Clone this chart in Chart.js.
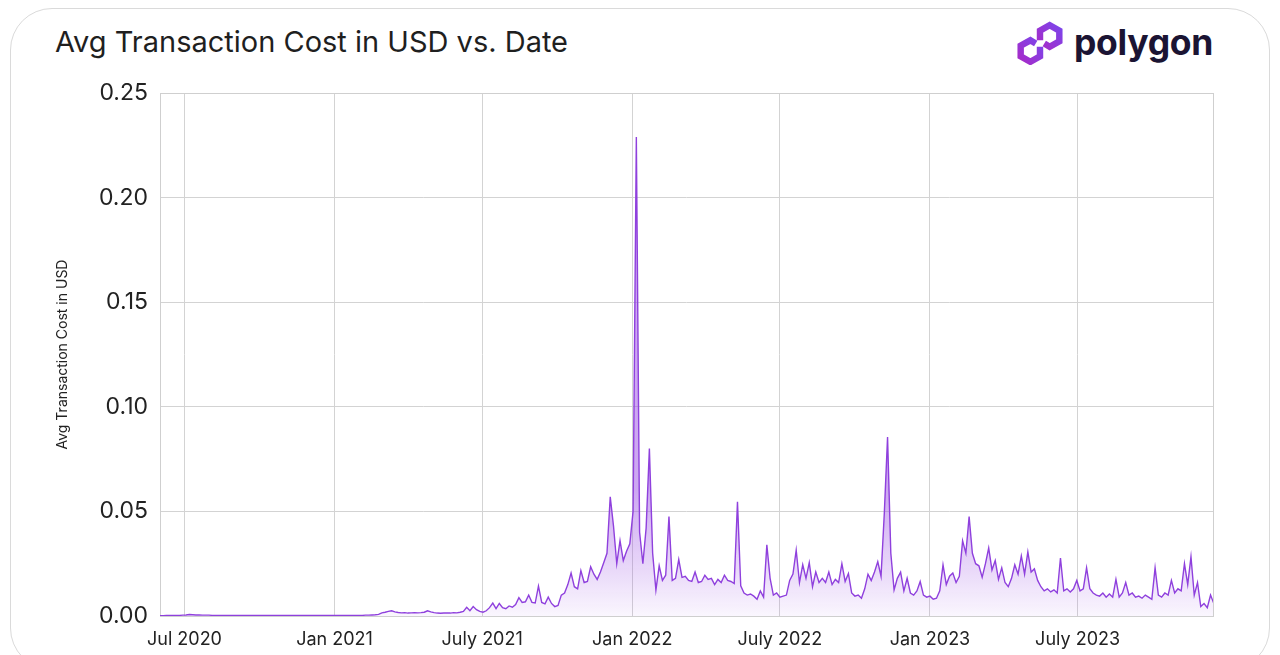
<!DOCTYPE html>
<html>
<head>
<meta charset="utf-8">
<script src="https://cdn.jsdelivr.net/npm/chart.js@4.4.1/dist/chart.umd.min.js"></script>
<style>
  html, body { margin: 0; padding: 0; background: #fff; width: 1280px; height: 655px; overflow: hidden; font-family: Inter, "Noto Sans", sans-serif; }
  .card { position: absolute; left: 10px; top: 8px; width: 1258px; height: 660px; border: 1px solid #dadada; border-radius: 42px; }
  h1 { position: absolute; left: 55px; top: 24px; margin: 0; font-weight: 400; font-size: 29px; color: #1f1f1f; }
  .logo { position: absolute; left: 1016px; top: 21px; display: flex; align-items: center; }
  .logo span { font-weight: 700; font-size: 35.5px; color: #1b1433; margin-left: 10px; letter-spacing: -0.3px; line-height: 44px; }
  canvas { position: absolute; left: 0; top: 0; }
</style>
</head>
<body>
<div class="card"></div>
<h1>Avg Transaction Cost in USD vs. Date</h1>
<div class="logo">
  <svg width="48" height="44" viewBox="1 1 44 41">
    <defs>
      <linearGradient id="pg" x1="0" y1="1" x2="1" y2="0">
        <stop offset="0" stop-color="#a62bc8"/>
        <stop offset="1" stop-color="#7d45ea"/>
      </linearGradient>
    </defs>
    <g fill="none" stroke="url(#pg)" stroke-width="6" stroke-linejoin="miter" stroke-linecap="butt">
      <polyline points="19,22 14,19 5,24 5,34 14,39 23,34 23,25"/>
      <polyline points="27,22 32,25 41,20 41,10 32,5 23,10 23,19"/>
    </g>
  </svg>
  <span>polygon</span>
</div>
<canvas id="chart" width="1280" height="655"></canvas>
<script>
// daily avg cost sampled every 4 days, starting 2020-06-01
const startDate = "2020-06-01";
const stepDays = 4;
const endDate = "2023-12-14";
const costs = [
  0.0002, 0.0002, 0.0003, 0.0003, 0.0003, 0.0003, 0.0003, 0.0004, 0.0005, 0.0007,
  0.0006, 0.0005, 0.0005, 0.0004, 0.0004, 0.0004, 0.0003, 0.0003, 0.0003, 0.0003,
  0.0003, 0.0003, 0.0003, 0.0003, 0.0003, 0.0003, 0.0003, 0.0003, 0.0003, 0.0003,
  0.0003, 0.0003, 0.0003, 0.0003, 0.0003, 0.0003, 0.0003, 0.0003, 0.0003, 0.0003,
  0.0003, 0.0003, 0.0003, 0.0003, 0.0003, 0.0003, 0.0003, 0.0003, 0.0003, 0.0003,
  0.0003, 0.0003, 0.0003, 0.0003, 0.0003, 0.0003, 0.0003, 0.0003, 0.0003, 0.0003,
  0.0003, 0.0003, 0.0003, 0.0004, 0.0004, 0.0005, 0.0006,
  // mar 2021
  0.0008, 0.0015, 0.0018, 0.0022, 0.0025, 0.0020, 0.0017, 0.0015, 0.0016, 0.0014,
  0.0015, 0.0016, 0.0015, 0.0016, 0.0018, 0.0025, 0.0020, 0.0016, 0.0014, 0.0013,
  0.0014, 0.0015, 0.0014, 0.0016, 0.0015, 0.0018, 0.0022, 0.0042, 0.0025, 0.0045,
  0.0030, 0.0022, 0.0018,
  // jul 2021
  0.0025, 0.0040, 0.0062, 0.0035, 0.0060, 0.0040, 0.0035, 0.0048, 0.0042, 0.0055,
  0.0088, 0.0065, 0.0068, 0.0100, 0.0065, 0.0062, 0.0143, 0.0065, 0.0058, 0.0090,
  0.0060, 0.0045, 0.0050, 0.0100, 0.0110, 0.0150, 0.0205, 0.0140, 0.0130, 0.0217,
  0.0160, 0.0165, 0.0235, 0.0200, 0.0175, 0.0210, 0.0255, 0.0300, 0.0570, 0.0430,
  0.0250, 0.0360, 0.0265, 0.0310, 0.0345, 0.0500, 0.2290, 0.0400, 0.0250, 0.0420,
  // feb 2022
  0.0800, 0.0300, 0.0124, 0.0240, 0.0170, 0.0195, 0.0475, 0.0170, 0.0180, 0.0270,
  0.0185, 0.0190, 0.0170, 0.0165, 0.0210, 0.0160, 0.0165, 0.0195, 0.0175, 0.0180,
  0.0150, 0.0175, 0.0160, 0.0195, 0.0170, 0.0165, 0.0155, 0.0546, 0.0144, 0.0110,
  0.0100, 0.0105, 0.0095, 0.0080, 0.0120, 0.0090, 0.0340, 0.0180, 0.0100, 0.0110,
  0.0090, 0.0095, 0.0100, 0.0170, 0.0200, 0.0315, 0.0160, 0.0245, 0.0180, 0.0255,
  // sep 2022
  0.0140, 0.0210, 0.0160, 0.0180, 0.0160, 0.0210, 0.0150, 0.0175, 0.0160, 0.0250,
  0.0165, 0.0203, 0.0110, 0.0095, 0.0100, 0.0085, 0.0130, 0.0200, 0.0170, 0.0210,
  0.0260, 0.0190, 0.0490, 0.0855, 0.0300, 0.0125, 0.0180, 0.0210, 0.0120, 0.0180,
  0.0110, 0.0100, 0.0120, 0.0165, 0.0100, 0.0090, 0.0095, 0.0080, 0.0085, 0.0120,
  0.0244, 0.0150, 0.0190, 0.0205, 0.0160, 0.0190, 0.0360, 0.0300, 0.0475, 0.0300,
  // mar 2023
  0.0250, 0.0240, 0.0185, 0.0250, 0.0325, 0.0220, 0.0265, 0.0175, 0.0230, 0.0160,
  0.0140, 0.0180, 0.0245, 0.0200, 0.0287, 0.0200, 0.0307, 0.0210, 0.0225, 0.0170,
  0.0140, 0.0120, 0.0130, 0.0115, 0.0125, 0.0110, 0.0277, 0.0120, 0.0130, 0.0115,
  0.0130, 0.0170, 0.0120, 0.0130, 0.0230, 0.0130, 0.0110, 0.0100, 0.0095, 0.0110,
  0.0090, 0.0105, 0.0090, 0.0175, 0.0090, 0.0110, 0.0160, 0.0100, 0.0110, 0.0090,
  // sep 2023
  0.0095, 0.0085, 0.0100, 0.0090, 0.0080, 0.0230, 0.0100, 0.0090, 0.0110, 0.0100,
  0.0170, 0.0110, 0.0130, 0.0120, 0.0250, 0.0150, 0.0283, 0.0100, 0.0160, 0.0045,
  0.0060, 0.0040, 0.0100, 0.0060
];

const tickDates = ["2020-07-01", "2021-01-01", "2021-07-01", "2022-01-01", "2022-07-01", "2023-01-01", "2023-07-01"];
const tickLabels = ["Jul 2020", "Jan 2021", "July 2021", "Jan 2022", "July 2022", "Jan 2023", "July 2023"];
const yTicks = [0, 0.05, 0.10, 0.15, 0.20, 0.25];

const DAY = 86400000;
const t0 = Date.parse(startDate);
const dayOf = d => Math.round((Date.parse(d) - t0) / DAY);
const tickDays = tickDates.map(dayOf);

const points = costs.map((v, i) => ({ x: i * stepDays, y: v }));

const frame = {
  id: "frame",
  beforeDatasetsDraw(chart) {
    const { ctx, chartArea: a } = chart;
    ctx.save();
    ctx.strokeStyle = "#cfcfcf";
    ctx.lineWidth = 1;
    ctx.strokeRect(Math.round(a.left) + 0.5, Math.round(a.top) + 0.5, Math.round(a.width), Math.round(a.height));
    ctx.restore();
  }
};

new Chart(document.getElementById("chart"), {
  type: "line",
  data: {
    datasets: [{
      label: "Avg Transaction Cost in USD",
      data: points,
      borderColor: "#8f40dd",
      borderWidth: 1.4,
      pointRadius: 0,
      tension: 0,
      fill: "origin",
      backgroundColor: c => {
        const chart = c.chart;
        const a = chart.chartArea;
        if (!a) return "rgba(160,90,230,0.2)";
        const top = chart.scales.y.getPixelForValue(0.06);
        const g = chart.ctx.createLinearGradient(0, top, 0, a.bottom);
        g.addColorStop(0, "rgba(155,80,228,0.5)");
        g.addColorStop(1, "rgba(155,80,228,0.05)");
        return g;
      }
    }]
  },
  options: {
    responsive: false,
    devicePixelRatio: 1,
    animation: false,
    layout: { padding: { left: 0, right: 67, top: 93, bottom: 0 } },
    plugins: { legend: { display: false }, tooltip: { enabled: false } },
    scales: {
      x: {
        type: "linear",
        min: 0,
        max: dayOf(endDate),
        afterBuildTicks: s => { s.ticks = tickDays.map(v => ({ value: v })); },
        afterFit: s => { s.height = 655 - 616; },
        ticks: {
          autoSkip: false,
          maxRotation: 0,
          padding: 13,
          color: "#222",
          font: { family: "Inter", size: 18 },
          callback: v => tickLabels[tickDays.indexOf(v)]
        },
        grid: { color: "#d3d3d3", drawTicks: false },
        border: { display: false }
      },
      y: {
        min: 0,
        max: 0.25,
        afterBuildTicks: s => { s.ticks = yTicks.map(v => ({ value: v })); },
        afterFit: s => { s.width = 160; },
        ticks: {
          padding: 12,
          color: "#222",
          font: { family: "Inter", size: 23 },
          callback: v => v.toFixed(2)
        },
        grid: { color: "#d3d3d3", drawTicks: false },
        border: { display: false },
        title: {
          display: true,
          text: "Avg Transaction Cost in USD",
          color: "#222",
          font: { family: "Inter", size: 14 },
          padding: { top: 54, bottom: 0 }
        }
      }
    }
  },
  plugins: [frame]
});
</script>
</body>
</html>
